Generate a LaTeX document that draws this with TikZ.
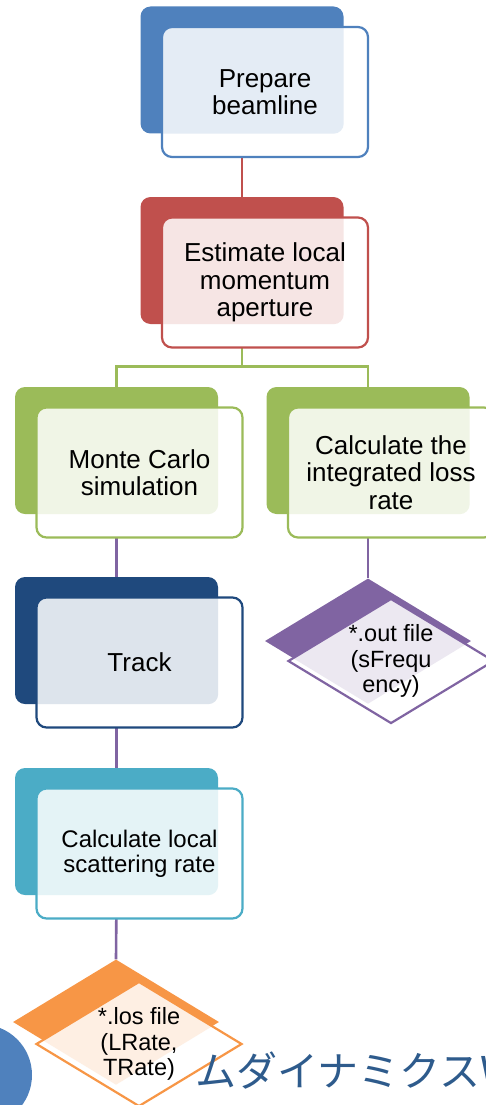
\documentclass[tikz,border=0pt]{standalone}
\usepackage{fontspec}
\setmainfont{Liberation Sans}
\newfontfamily\jpfont{Noto Sans CJK JP}
\usetikzlibrary{shapes.geometric,backgrounds}

\definecolor{cblue}{HTML}{4F81BD}
\definecolor{cred}{HTML}{C0504D}
\definecolor{cgreen}{HTML}{9BBB59}
\definecolor{cnavy}{HTML}{1F497D}
\definecolor{caqua}{HTML}{4BACC6}
\definecolor{corange}{HTML}{F79646}
\definecolor{cpurple}{HTML}{8064A2}
\definecolor{ctitle}{HTML}{2E5B8C}

\begin{document}
\begin{tikzpicture}[x=1pt,y=-1pt,
  back/.style={rectangle, rounded corners=10pt, fill=#1, minimum width=203pt, minimum height=127pt, inner sep=0pt},
  card/.style 2 args={rectangle, rounded corners=10pt, draw=#1, line width=2.2pt, fill=white,
    minimum width=206pt, minimum height=130pt, align=center, inner sep=0pt,
    font=\fontsize{26}{27.5}\selectfont,
    path picture={\fill[#1!15, rounded corners=10pt] (#2.south west) rectangle (#2.north east);}},
  bdiam/.style={diamond, fill=#1, minimum width=206pt, minimum height=125pt, inner sep=0pt},
  fdiam/.style 2 args={diamond, draw=#1, line width=2.2pt, fill=white,
    minimum width=206pt, minimum height=125pt, inner sep=0pt,
    path picture={\fill[#1!15] (#2.north) -- (#2.east) -- (#2.south) -- (#2.west) -- cycle;}},
  lbl/.style={align=center, font=\fontsize{23.5}{25.5}\selectfont},
  link/.style={draw=#1, line width=2.6pt}]
\useasboundingbox (0,0) rectangle (486,1105);
\clip (0,0) rectangle (486,1105);

% first row
\node[back=cblue] (prepb) at (242,70) {};
\node[card={cblue}{prepb}] (prep) at ([shift={(23,22)}]prepb) {Prepare\\beamline};

\node[back=cred] (estb) at (242,260.5) {};
\node[card={cred}{estb}] (est) at ([shift={(23,22)}]estb) {Estimate local\\momentum\\aperture};

% two branches
\node[back=cgreen] (mcb) at (116.5,450.5) {};
\node[card={cgreen}{mcb}] (mc) at ([shift={(23,22)}]mcb) {Monte Carlo\\simulation};

\node[back=cgreen] (intb) at (368,450.5) {};
\node[card={cgreen}{intb}] (int) at ([shift={(23,22)}]intb) {Calculate the\\integrated loss\\rate};

\node[back=cnavy] (trackb) at (116.5,640.5) {};
\node[card={cnavy}{trackb}] (track) at ([shift={(23,22)}]trackb) {Track};

\node[back=caqua] (scatb) at (116.5,831.5) {};
\node[card={caqua}{scatb}, font=\fontsize{24}{25}\selectfont] (scat) at ([shift={(23,22)}]scatb) {Calculate local\\scattering rate};

% output files
\node[bdiam=cpurple] (outb) at (368,641) {};
\node[fdiam={cpurple}{outb}, label={[lbl]center:{*.out file\\(sFrequ\\ency)}}] (out) at ([shift={(23,20)}]outb) {};

\node[bdiam=corange] (losb) at (116,1022) {};
\node[fdiam={corange}{losb}, label={[lbl]center:{*.los file\\(LRate,\\TRate)}}] (los) at ([shift={(23,22)}]losb) {};

% slide remains
\fill[cblue] (-18.5,1075) circle (50.5pt);
\node[anchor=base west, inner sep=0pt, text=ctitle, font=\jpfont\fontsize{41}{41}\selectfont] (title) at (195,1086) {ムダイナミクスW};

\begin{pgfonlayer}{background}
\draw[link=cred] (prepb.south) -- (estb.north);
\draw[link=cgreen] (estb.south) -- ++(0,42) coordinate (fork);
\draw[link=cgreen] (mcb.north) |- (fork) -| (intb.north);
\draw[link=cpurple] (mcb.south) -- (trackb.north);
\draw[link=cpurple] (trackb.south) -- (scatb.north);
\draw[link=cpurple] (scatb.south) -- (losb.north);
\draw[link=cpurple] (intb.south) -- (outb.north);
\end{pgfonlayer}
\end{tikzpicture}
\end{document}
